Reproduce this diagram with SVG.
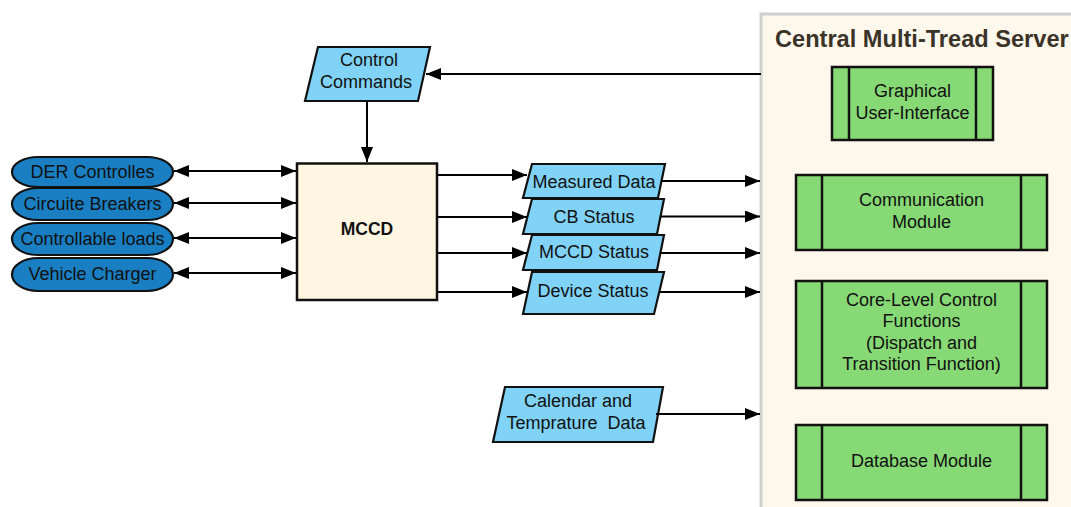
<svg xmlns="http://www.w3.org/2000/svg" width="1071" height="507" viewBox="0 0 1071 507">
<defs>
<marker id="ah" markerUnits="userSpaceOnUse" markerWidth="16" markerHeight="12" refX="15" refY="6" orient="auto-start-reverse">
<path d="M0,0 L15,6 L0,12 z" fill="#000"/>
</marker>
<style>
text{font-family:"Liberation Sans",Arial,sans-serif;fill:#111;text-anchor:middle}
.t16{font-size:18px}
.t17{font-size:18px}
.io{fill:#80d3f6;stroke:#111;stroke-width:2.2}
.dev{fill:#1a7fc2;stroke:#111;stroke-width:2.2}
.mod{fill:#87d975;stroke:#111;stroke-width:2.5}
.bar{stroke:#111;stroke-width:2.5}
.c{fill:none;stroke:#000;stroke-width:2}
.a{marker-end:url(#ah)}
.b{marker-start:url(#ah);marker-end:url(#ah)}
</style>
</defs>
<rect width="1071" height="507" fill="#fff"/>

<g id="server">
<rect x="761" y="14" width="330" height="510" fill="#fdf7ec" stroke="#cfcfcf" stroke-width="3"/>
<text x="775" y="47" style="font-size:23.6px;font-weight:bold;fill:#3b3328;text-anchor:start">Central Multi-Tread Server</text>
</g>

<g id="gui">
<rect class="mod" x="832" y="67" width="161" height="73"/>
<line class="bar" x1="849" y1="67" x2="849" y2="140"/>
<line class="bar" x1="976" y1="67" x2="976" y2="140"/>
<text class="t17" x="912.5" y="97">Graphical</text>
<text class="t17" x="912.5" y="118.5">User-Interface</text>
</g>

<g id="comm">
<rect class="mod" x="796" y="175" width="251" height="75"/>
<line class="bar" x1="822" y1="175" x2="822" y2="250"/>
<line class="bar" x1="1021" y1="175" x2="1021" y2="250"/>
<text class="t17" x="921.5" y="206">Communication</text>
<text class="t17" x="921.5" y="228">Module</text>
</g>

<g id="core">
<rect class="mod" x="796" y="281" width="251" height="107"/>
<line class="bar" x1="822" y1="281" x2="822" y2="388"/>
<line class="bar" x1="1021" y1="281" x2="1021" y2="388"/>
<text class="t17" x="921.5" y="305.5">Core-Level Control</text>
<text class="t17" x="921.5" y="327">Functions</text>
<text class="t17" x="921.5" y="348.5">(Dispatch and</text>
<text class="t17" x="921.5" y="370">Transition Function)</text>
</g>

<g id="db">
<rect class="mod" x="796" y="425" width="251" height="75"/>
<line class="bar" x1="822" y1="425" x2="822" y2="500"/>
<line class="bar" x1="1021" y1="425" x2="1021" y2="500"/>
<text class="t17" x="921.5" y="467">Database Module</text>
</g>

<g id="mccd">
<rect x="297" y="163.5" width="140" height="136.5" fill="#fff5e0" stroke="#111" stroke-width="2.5"/>
<text x="367" y="235" style="font-size:17.5px;font-weight:bold">MCCD</text>
</g>

<g id="control-commands">
<polygon class="io" points="318,47 430,47 418,101 305,101"/>
<text class="t17" x="369" y="66">Control</text>
<text class="t17" x="366" y="88">Commands</text>
</g>

<g id="der">
<rect class="dev" x="12" y="157" width="161" height="30" rx="26" ry="15"/>
<text class="t16" x="92.5" y="178">DER Controlles</text>
</g>
<g id="cb">
<rect class="dev" x="12" y="188" width="161" height="32" rx="26" ry="16"/>
<text class="t16" x="92.5" y="210">Circuite Breakers</text>
</g>
<g id="loads">
<rect class="dev" x="12" y="223" width="161" height="32" rx="26" ry="16"/>
<text class="t16" x="92.5" y="245">Controllable loads</text>
</g>
<g id="vehicle">
<rect class="dev" x="12" y="258" width="161" height="33" rx="26" ry="16.5"/>
<text class="t16" x="92.5" y="280">Vehicle Charger</text>
</g>

<g id="measured">
<polygon class="io" points="532,164 665,164 658,198 523,198"/>
<text class="t16" x="594" y="187.5">Measured Data</text>
</g>
<g id="cbstatus">
<polygon class="io" points="532,199 664,199 657,234 523,234"/>
<text class="t16" x="594" y="222.5">CB Status</text>
</g>
<g id="mccdstatus">
<polygon class="io" points="532,235 664,235 657,270 523,270"/>
<text class="t16" x="594" y="258">MCCD Status</text>
</g>
<g id="devstatus">
<polygon class="io" points="532,272 664,272 654,314 523,314"/>
<text class="t16" x="593" y="297">Device Status</text>
</g>

<g id="calendar">
<polygon class="io" points="505,387 663,387 653,442 493,442"/>
<text class="t16" x="578" y="406.5">Calendar and</text>
<text class="t16" x="576" y="428.5" style="white-space:pre">Temprature  Data</text>
</g>

<g id="connectors">
<line class="c a" x1="761" y1="74" x2="426" y2="74"/>
<line class="c a" x1="367" y1="101" x2="367" y2="162"/>
<line class="c b" x1="174" y1="171" x2="296" y2="171"/>
<line class="c b" x1="174" y1="203" x2="296" y2="203"/>
<line class="c b" x1="174" y1="238" x2="296" y2="238"/>
<line class="c b" x1="174" y1="273" x2="296" y2="273"/>
<line class="c a" x1="437" y1="175" x2="527" y2="175"/>
<line class="c a" x1="437" y1="217" x2="527" y2="217"/>
<line class="c a" x1="437" y1="253" x2="527" y2="253"/>
<line class="c a" x1="437" y1="292" x2="527" y2="292"/>
<line class="c a" x1="661" y1="181" x2="760" y2="181"/>
<line class="c a" x1="660" y1="216.5" x2="760" y2="216.5"/>
<line class="c a" x1="660" y1="253" x2="760" y2="253"/>
<line class="c a" x1="659" y1="292" x2="760" y2="292"/>
<line class="c a" x1="656" y1="414" x2="760" y2="414"/>
</g>
</svg>
